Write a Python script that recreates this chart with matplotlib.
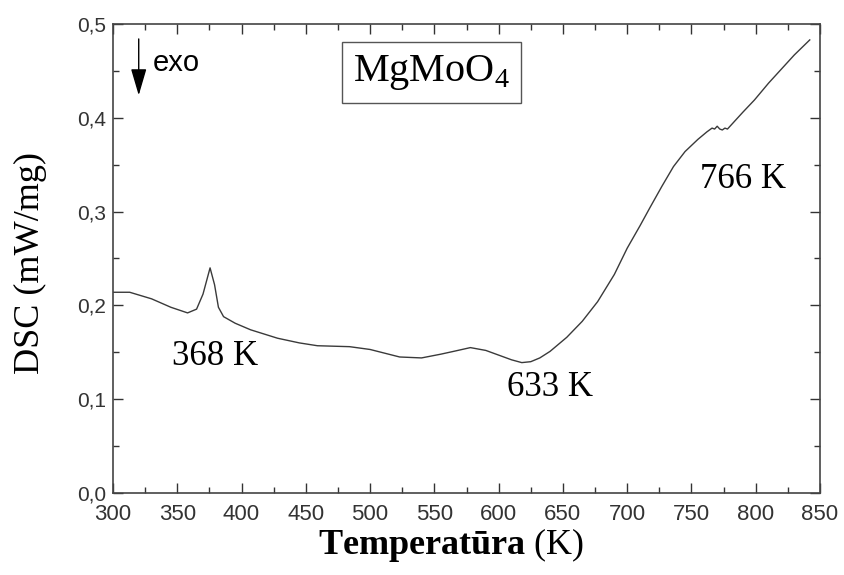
import matplotlib
matplotlib.use("Agg")
import matplotlib.pyplot as plt
from matplotlib.ticker import MultipleLocator, FuncFormatter

plt.rcParams["mathtext.fontset"] = "custom"
plt.rcParams["mathtext.rm"] = "Liberation Serif"
plt.rcParams["mathtext.bf"] = "Liberation Serif:bold"

# DSC curve of MgMoO4 (temperature in K, heat flow in mW/mg)
temp_K = [300, 313, 330, 345, 358, 365, 370, 375.5, 379, 382, 386, 395, 407,
          428, 445, 459, 484, 500, 523, 540, 555, 565, 578, 590, 600, 610,
          618, 625, 632, 640, 653, 665, 677, 690, 700, 710, 718, 727, 736,
          745, 755, 762, 766, 768, 770, 772, 774, 776, 778, 782, 790, 799,
          810, 820, 830, 842]
dsc = [0.214, 0.214, 0.207, 0.198, 0.192, 0.196, 0.212, 0.240, 0.222, 0.198,
       0.188, 0.181, 0.174, 0.165, 0.160, 0.157, 0.156, 0.153, 0.145, 0.144,
       0.148, 0.151, 0.155, 0.152, 0.147, 0.142, 0.139, 0.140, 0.144, 0.151,
       0.166, 0.183, 0.204, 0.233, 0.261, 0.285, 0.305, 0.327, 0.348, 0.364,
       0.377, 0.385, 0.389, 0.388, 0.391, 0.388, 0.387, 0.389, 0.388, 0.394,
       0.406, 0.419, 0.437, 0.452, 0.467, 0.483]

peak_labels = ["368 K", "633 K", "766 K"]
peak_pos = [(379, 0.146), (640, 0.112), (790, 0.334)]

serif = ["Liberation Serif", "DejaVu Serif"]
sans = ["Liberation Sans", "DejaVu Sans"]

fig = plt.figure(figsize=(8.44, 5.75), dpi=100)
ax = fig.add_axes([0.1339, 0.1426, 0.8377, 0.8157])

ax.plot(temp_K, dsc, color="#3a3a3a", linewidth=1.0)

ax.set_xlim(300, 850)
ax.set_ylim(0, 0.5)
ax.xaxis.set_major_locator(MultipleLocator(50))
ax.xaxis.set_minor_locator(MultipleLocator(25))
ax.yaxis.set_major_locator(MultipleLocator(0.1))
ax.yaxis.set_minor_locator(MultipleLocator(0.05))
ax.yaxis.set_major_formatter(FuncFormatter(lambda v, p: f"{v:.1f}".replace(".", ",")))

ax.tick_params(which="both", direction="in", top=True, right=True,
               color="#333333", width=1.0)
ax.tick_params(which="major", length=7)
ax.tick_params(axis="x", which="major", pad=8, labelsize=16)
ax.tick_params(axis="y", which="major", pad=5, labelsize=15)
ax.tick_params(which="minor", length=4)
for lab in ax.get_xticklabels() + ax.get_yticklabels():
    lab.set_family(sans)
    lab.set_color("#333333")
for sp in ax.spines.values():
    sp.set_color("#444444")
    sp.set_linewidth(1.2)

fig.text(30 / 844, 1 - 263 / 575, "DSC (mW/mg)", family=serif, fontsize=26,
         rotation=90, ha="center", va="center")
fig.text(451 / 844, 1 - 545 / 575, "$\\mathbf{Temperatūra}$ (K)", family=serif,
         fontsize=26, ha="center", va="center")

for s, (x, y) in zip(peak_labels, peak_pos):
    ax.text(x, y, s, family=serif, fontsize=25, ha="center", va="center")

# exo direction arrow
ax.annotate("", xy=(320, 0.421), xytext=(320, 0.487),
            arrowprops=dict(arrowstyle="-|>,head_length=0.75,head_width=0.22",
                            color="black", lw=1.0, mutation_scale=22))
ax.text(331, 0.458, "exo", family=sans, fontsize=21, ha="left", va="center")

ax.text(548, 0.448, "MgMoO$_4$", family=serif, fontsize=29, ha="center",
        va="center",
        bbox=dict(facecolor="white", edgecolor="#555555", boxstyle="square,pad=0.27"))

fig.savefig("out.png", dpi=100)
